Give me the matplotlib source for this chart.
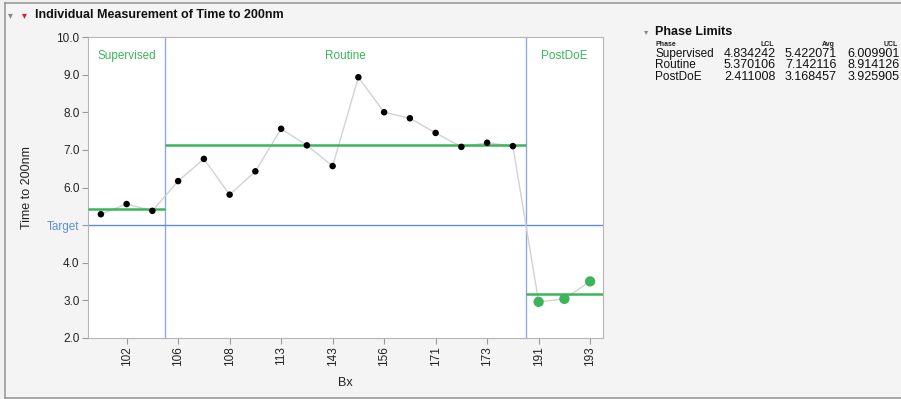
import matplotlib
matplotlib.use("Agg")
import matplotlib.pyplot as plt
import numpy as np

plt.rcParams["font.family"] = ["Liberation Sans", "DejaVu Sans"]

# ---- data ----
supervised_vals = [5.29, 5.56, 5.38]
routine_vals = [6.17, 6.76, 5.81, 6.43, 7.56, 7.12, 6.57, 8.93, 8.00, 7.84, 7.45, 7.08, 7.19, 7.10]
postdoe_vals = [2.96, 3.04, 3.505]
phase_names = ["Supervised", "Routine", "PostDoE"]
phase_lcl = [4.834242, 5.370106, 2.411008]
phase_avg = [5.422071, 7.142116, 3.168457]
phase_ucl = [6.009901, 8.914126, 3.925905]
tick_labels = ["102", "106", "108", "113", "143", "156", "171", "173", "191", "193"]
target = 5.0
y_ticks = [2.0, 3.0, 4.0, 6.0, 7.0, 8.0, 9.0, 10.0]

GREEN = "#3cb55a"
BLUE_T = "#5d8fd8"
BLUE_V = "#8fa9de"

W, H = 901, 399
fig = plt.figure(figsize=(W / 100, H / 100), dpi=100, facecolor="#f1f1f1")

# outer frame
frame = fig.add_axes([5 / W, 1 / H, (W - 5) / W, (H - 4) / H])
frame.set_xticks([]); frame.set_yticks([])
frame.set_facecolor("#f4f4f4")
for s in frame.spines.values():
    s.set_color("#9a9a9a"); s.set_linewidth(1.2)
frame.spines["right"].set_visible(False)

ax = fig.add_axes([88 / W, (H - 338) / H, (603 - 88) / W, (338 - 37) / H])
ax.set_facecolor("white")

all_vals = supervised_vals + routine_vals + postdoe_vals
x = np.arange(len(all_vals))
groups = [supervised_vals, routine_vals, postdoe_vals]
starts = np.cumsum([0] + [len(g) for g in groups])

ax.plot(x, all_vals, color="#d2d2d2", lw=1.0, zorder=2)

for i, (g, name) in enumerate(zip(groups, phase_names)):
    s, e = starts[i], starts[i + 1]
    xs = np.arange(s, e)
    if name == "PostDoE":
        ax.scatter(xs, g, s=55, color=GREEN, zorder=4, edgecolors="none")
    else:
        ax.scatter(xs, g, s=22, color="black", zorder=4, edgecolors="none")
    ax.hlines(phase_avg[i], s - 0.5, e - 0.5, color=GREEN, lw=1.8, zorder=3)
    ax.text((s + e - 1) / 2, 9.5, name, color=GREEN, ha="center", va="center", fontsize=8.5)
    if i > 0:
        ax.axvline(s - 0.5, color=BLUE_V, lw=1.0, zorder=1)

ax.axhline(target, color=BLUE_T, lw=1.0, zorder=1)

ax.set_xlim(-0.5, len(all_vals) - 0.5)
ax.set_ylim(2.0, 10.0)
ax.set_xticks(np.arange(1, len(all_vals), 2))
ax.set_xticklabels(tick_labels, rotation=90, fontsize=8.5, color="#222222")
yt = y_ticks + [target]
ax.set_yticks(yt)
ax.set_yticklabels([f"{v:.1f}" for v in y_ticks] + ["Target"], fontsize=8.5, color="#222222")
ax.get_yticklabels()[-1].set_color(BLUE_T)
ax.tick_params(axis="both", length=4, color="#9a9a9a", width=0.8, pad=2)
for s in ax.spines.values():
    s.set_color("#b5b5b5"); s.set_linewidth(0.8)
ax.set_xlabel("Bx", fontsize=9, color="#222222", labelpad=8)
ax.set_ylabel("Time to 200nm", fontsize=9, color="#222222", labelpad=10)

# title
fig.text(35 / W, 1 - 15 / H, "Individual Measurement of Time to 200nm", fontsize=9,
         fontweight="bold", va="center", ha="left", color="#111111")
fig.text(10 / W, 1 - 15 / H, "\u25BE", fontsize=7, color="#888888", va="center", ha="center",
         family="DejaVu Sans")
fig.text(24 / W, 1 - 15 / H, "\u25BE", fontsize=7, color="#d02030", va="center", ha="center",
         family="DejaVu Sans")

# phase limits table
fig.text(646 / W, 1 - 32 / H, "\u25BE", fontsize=6, color="#888888", va="center", ha="center",
         family="DejaVu Sans")
fig.text(655 / W, 1 - 32 / H, "Phase Limits", fontsize=9, fontweight="bold", va="center", ha="left", color="#111111")
hy = 1 - 44 / H
fig.text(655 / W, hy, "Phase", fontsize=5, fontweight="bold", va="center", ha="left", color="#222222")
col_x = [776, 837, 900]
for cx, hdr in zip(col_x, ["LCL", "Avg", "UCL"]):
    fig.text((cx - 2) / W, hy, hdr, fontsize=5, fontweight="bold", va="center", ha="right", color="#222222")
for r, name in enumerate(phase_names):
    ry = 1 - (54 + 11.5 * r) / H
    fig.text(655 / W, ry, name, fontsize=8.5, va="center", ha="left", color="#111111")
    for cx, v in zip(col_x, [phase_lcl[r], phase_avg[r], phase_ucl[r]]):
        fig.text(cx / W, ry, f"{v:.6f}", fontsize=9, va="center", ha="right", color="#111111")

fig.savefig("out.png", dpi=100, facecolor=fig.get_facecolor())
